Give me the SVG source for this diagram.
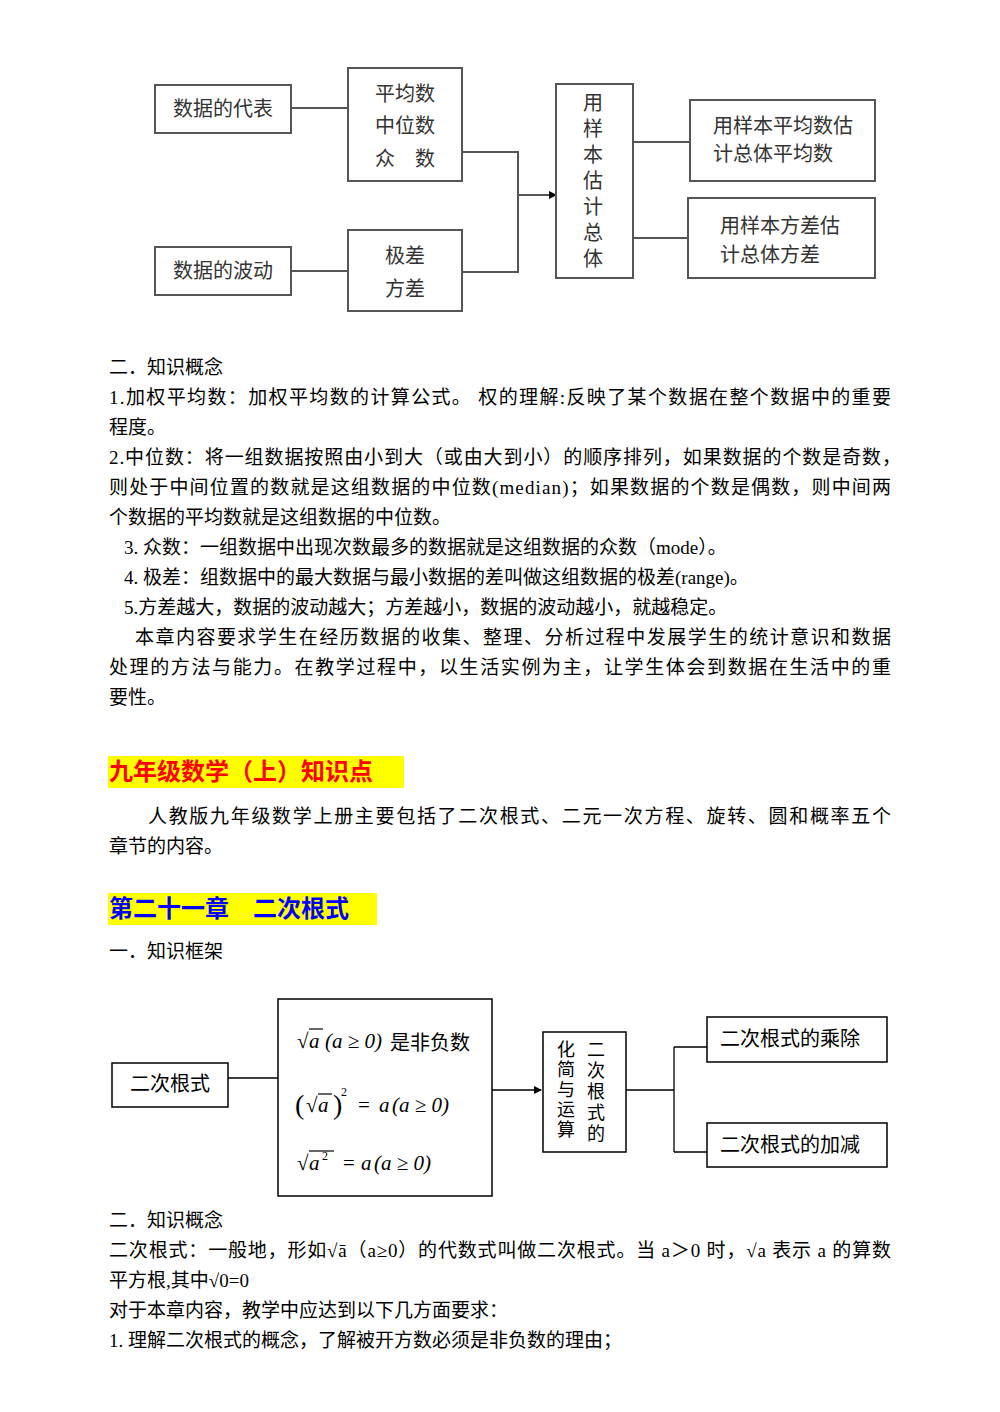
<svg xmlns="http://www.w3.org/2000/svg" width="1000" height="1412" viewBox="0 0 1000 1412">
<style>
text{font-family:"Liberation Serif","Noto Sans CJK SC",serif;fill:#000}
.t{font-size:19px}
.d{font-size:20px;fill:#333;font-family:"Noto Sans CJK SC",sans-serif}
.v{font-size:18px;fill:#000;font-family:"Noto Sans CJK SC",sans-serif}
.b{fill:#fff;stroke:#555;stroke-width:2}
.b2{fill:#fff;stroke:#000;stroke-width:1.5}
.c{fill:none;stroke:#555;stroke-width:2}
.c2{fill:none;stroke:#000;stroke-width:1.3}
.m{font-size:21px;font-style:italic;font-family:"Liberation Serif",serif}
.h{font-size:24px;font-weight:bold;font-family:"Noto Sans CJK SC",sans-serif}
</style>
<defs>
<marker id="ar" markerWidth="8" markerHeight="8" refX="7" refY="4" orient="auto" markerUnits="userSpaceOnUse"><path d="M0,0L8,4L0,8z" fill="#000"/></marker>
</defs>
<rect width="1000" height="1412" fill="#fff"/>
<g id="connectors1">
<path class="c" d="M291,108H348M291,271H348M462,152H518V272H462M633,142H690M633,238H688"/>
<path class="c" d="M518,195H556" marker-end="url(#ar)"/>
</g>
<g id="n1"><rect class="b" x="155" y="85" width="136" height="48"/><text class="d" x="223" y="116" text-anchor="middle">数据的代表</text></g>
<g id="n2"><rect class="b" x="348" y="68" width="114" height="113"/><text class="d" x="405" y="101" text-anchor="middle">平均数</text><text class="d" x="405" y="133" text-anchor="middle">中位数</text><text class="d" x="405" y="166" text-anchor="middle">众　数</text></g>
<g id="n3"><rect class="b" x="155" y="247" width="136" height="48"/><text class="d" x="223" y="278" text-anchor="middle">数据的波动</text></g>
<g id="n4"><rect class="b" x="348" y="230" width="114" height="81"/><text class="d" x="405" y="263" text-anchor="middle">极差</text><text class="d" x="405" y="296" text-anchor="middle">方差</text></g>
<g id="n5"><rect class="b" x="556" y="84" width="77" height="194"/>
<text class="d" x="593" text-anchor="middle"><tspan x="593" y="110">用</tspan><tspan x="593" y="136">样</tspan><tspan x="593" y="162">本</tspan><tspan x="593" y="188">估</tspan><tspan x="593" y="214">计</tspan><tspan x="593" y="240">总</tspan><tspan x="593" y="266">体</tspan></text></g>
<g id="n6"><rect class="b" x="690" y="100" width="185" height="81"/><text class="d" x="783" y="133" text-anchor="middle">用样本平均数估</text><text class="d" x="773" y="161" text-anchor="middle">计总体平均数</text></g>
<g id="n7"><rect class="b" x="688" y="198" width="187" height="80"/><text class="d" x="780" y="233" text-anchor="middle">用样本方差估</text><text class="d" x="770" y="262" text-anchor="middle">计总体方差</text></g>

<g id="text1" class="t">
<text x="109" y="374">二．知识概念</text>
<text x="109" y="404" textLength="782">1.加权平均数：加权平均数的计算公式。  权的理解:反映了某个数据在整个数据中的重要</text>
<text x="109" y="434">程度。</text>
<text x="109" y="464" textLength="792">2.中位数：将一组数据按照由小到大（或由大到小）的顺序排列，如果数据的个数是奇数，</text>
<text x="109" y="494" textLength="782">则处于中间位置的数就是这组数据的中位数(median)；如果数据的个数是偶数，则中间两</text>
<text x="109" y="524">个数据的平均数就是这组数据的中位数。</text>
<text x="124" y="554">3. 众数：一组数据中出现次数最多的数据就是这组数据的众数（mode）。</text>
<text x="124" y="584">4. 极差：组数据中的最大数据与最小数据的差叫做这组数据的极差(range)。</text>
<text x="124" y="614">5.方差越大，数据的波动越大；方差越小，数据的波动越小，就越稳定。</text>
<text x="135" y="644" textLength="756">本章内容要求学生在经历数据的收集、整理、分析过程中发展学生的统计意识和数据</text>
<text x="109" y="674" textLength="782">处理的方法与能力。在教学过程中，以生活实例为主，让学生体会到数据在生活中的重</text>
<text x="109" y="704">要性。</text>
</g>
<g id="heading1"><rect x="108" y="756" width="296" height="32" fill="#ffff00"/><text class="h" x="109" y="780" style="fill:#f00">九年级数学（上）知识点</text></g>
<g id="text2" class="t">
<text x="148" y="823" textLength="743">人教版九年级数学上册主要包括了二次根式、二元一次方程、旋转、圆和概率五个</text>
<text x="109" y="853">章节的内容。</text>
</g>
<g id="heading2"><rect x="108" y="893" width="269" height="32" fill="#ffff00"/><text class="h" x="109" y="917" style="fill:#0000ff">第二十一章　二次根式</text></g>
<text class="t" x="109" y="958">一．知识框架</text>

<g id="connectors2">
<path class="c2" d="M228,1078H278M626,1090H674M674,1047V1152M674,1047H707M674,1152H707"/>
<path class="c2" d="M492,1090H541" marker-end="url(#ar)"/>
</g>
<g id="m1"><rect class="b2" x="112" y="1063" width="116" height="44"/><text class="d" x="170" y="1091" text-anchor="middle" style="fill:#000">二次根式</text></g>
<g id="m2"><rect class="b2" x="278" y="999" width="214" height="197"/>
<text class="m" x="297" y="1048" style="font-style:normal">√</text><path d="M309,1029H323" stroke="#000" stroke-width="1.2"/><text class="m" x="309" y="1048">a</text><text class="m" x="325" y="1048">(a ≥ 0)</text><text class="d" x="390" y="1050" style="fill:#000">是非负数</text>
<text class="m" x="295" y="1114" style="font-style:normal;font-size:28px">(</text><text class="m" x="306" y="1112" style="font-style:normal">√</text><path d="M318,1094H332" stroke="#000" stroke-width="1.2"/><text class="m" x="318" y="1112">a</text><text class="m" x="333" y="1114" style="font-style:normal;font-size:28px">)</text><text class="m" x="341" y="1096" style="font-size:12px;font-style:normal">2</text><text class="m" x="358" y="1112" style="font-style:normal">=</text><text class="m" x="379" y="1112">a</text><text class="m" x="392" y="1112">(a ≥ 0)</text>
<text class="m" x="297" y="1170" style="font-style:normal">√</text><path d="M309,1151H334" stroke="#000" stroke-width="1.2"/><text class="m" x="309" y="1170">a</text><text class="m" x="322" y="1160" style="font-size:12px;font-style:normal">2</text><text class="m" x="343" y="1170" style="font-style:normal">=</text><text class="m" x="361" y="1170">a</text><text class="m" x="374" y="1170">(a ≥ 0)</text>
</g>
<g id="m3"><rect class="b2" x="543" y="1032" width="83" height="120"/>
<text class="v"><tspan x="587" y="1056">二</tspan><tspan x="587" y="1077">次</tspan><tspan x="587" y="1098">根</tspan><tspan x="587" y="1119">式</tspan><tspan x="587" y="1140">的</tspan></text>
<text class="v"><tspan x="557" y="1056">化</tspan><tspan x="557" y="1076">简</tspan><tspan x="557" y="1096">与</tspan><tspan x="557" y="1116">运</tspan><tspan x="557" y="1136">算</tspan></text>
</g>
<g id="m4"><rect class="b2" x="707" y="1017" width="180" height="45"/><text class="d" x="720" y="1046" style="fill:#000">二次根式的乘除</text></g>
<g id="m5"><rect class="b2" x="707" y="1123" width="180" height="44"/><text class="d" x="720" y="1152" style="fill:#000">二次根式的加减</text></g>

<g id="text3" class="t">
<text x="109" y="1227">二．知识概念</text>
<text x="109" y="1257" textLength="782">二次根式：一般地，形如√ā（a≥0）的代数式叫做二次根式。当 a＞0 时，√a 表示 a 的算数</text>
<text x="109" y="1287">平方根,其中√0=0</text>
<text x="109" y="1317">对于本章内容，教学中应达到以下几方面要求：</text>
<text x="109" y="1347">1. 理解二次根式的概念，了解被开方数必须是非负数的理由；</text>
</g>
</svg>
